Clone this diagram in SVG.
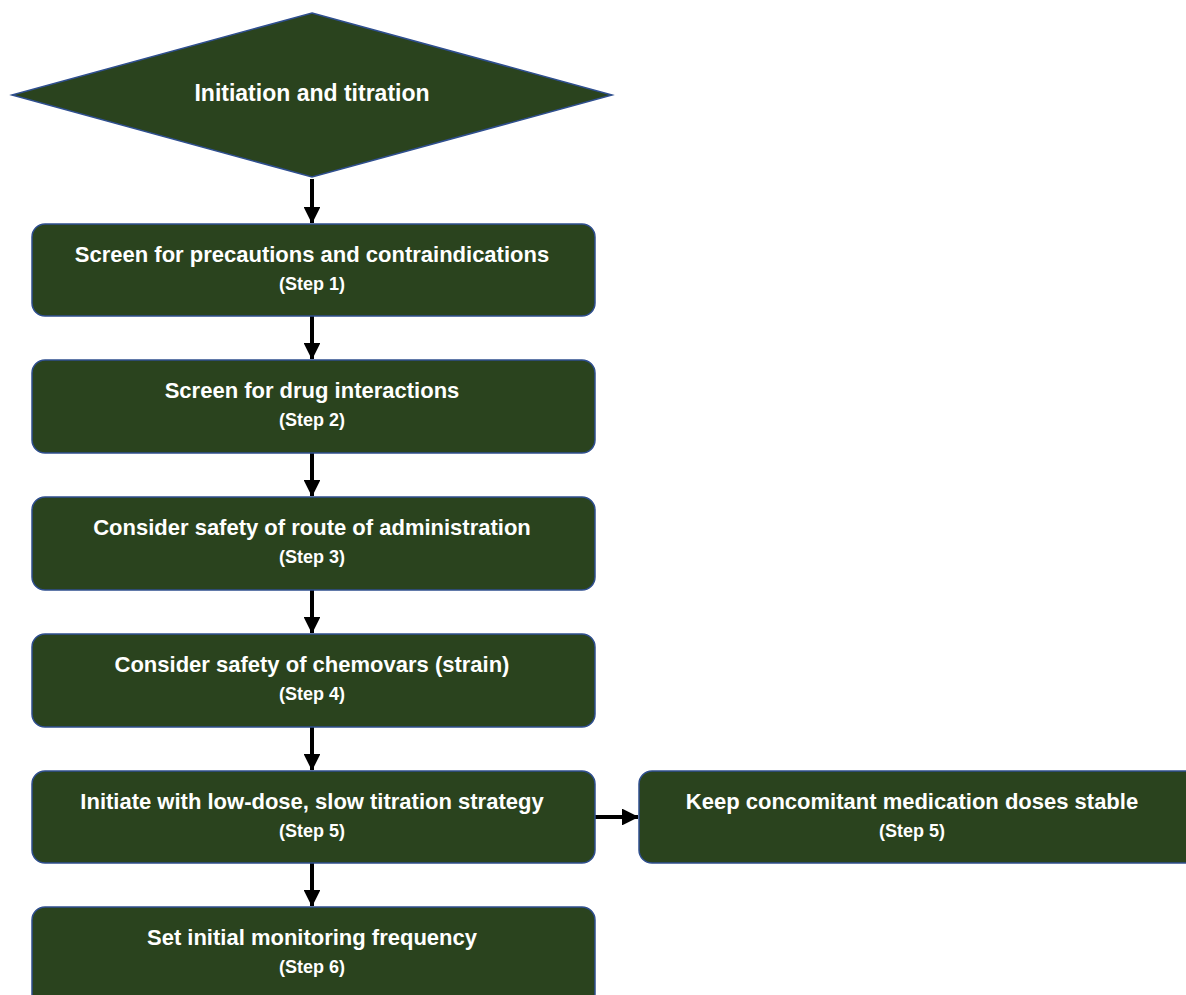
<svg xmlns="http://www.w3.org/2000/svg" width="1186" height="995" viewBox="0 0 1186 995">
<style>
.n{fill:#2a431e;stroke:#2f4f8f;stroke-width:1.5}
.t{font-family:"Liberation Sans",Arial,sans-serif;font-weight:bold;fill:#ffffff;text-anchor:middle;font-size:22px}
.d{font-size:23px}
.s{font-family:"Liberation Sans",Arial,sans-serif;font-weight:bold;fill:#ffffff;text-anchor:middle;font-size:18px}
.c{stroke:#000;stroke-width:4;fill:none;marker-end:url(#ah)}
</style>
<defs>
<marker id="ah" markerWidth="4.2" markerHeight="4.2" refX="4" refY="2.1" orient="auto" markerUnits="strokeWidth">
<path d="M0,0 L4.2,2.1 L0,4.2 Z" fill="#000"/>
</marker>
</defs>
<rect width="1186" height="995" fill="#fff"/>
<g id="connectors">
<line class="c" x1="312" y1="179" x2="312" y2="223"/>
<line class="c" x1="312" y1="316" x2="312" y2="359"/>
<line class="c" x1="312" y1="453" x2="312" y2="496"/>
<line class="c" x1="312" y1="590" x2="312" y2="633"/>
<line class="c" x1="312" y1="727" x2="312" y2="770"/>
<line class="c" x1="312" y1="863" x2="312" y2="906"/>
<line class="c" x1="595" y1="817" x2="638" y2="817"/>
</g>
<g id="start">
<polygon class="n" points="312,13 612,95 312,177 12,95"/>
<text class="t d" x="312" y="101">Initiation and titration</text>
</g>
<g id="step1">
<rect class="n" x="32" y="224" width="563" height="92" rx="13"/>
<text class="t" x="312" y="262">Screen for precautions and contraindications</text>
<text class="s" x="312" y="290">(Step 1)</text>
</g>
<g id="step2">
<rect class="n" x="32" y="360" width="563" height="93" rx="13"/>
<text class="t" x="312" y="398">Screen for drug interactions</text>
<text class="s" x="312" y="426">(Step 2)</text>
</g>
<g id="step3">
<rect class="n" x="32" y="497" width="563" height="93" rx="13"/>
<text class="t" x="312" y="535">Consider safety of route of administration</text>
<text class="s" x="312" y="563">(Step 3)</text>
</g>
<g id="step4">
<rect class="n" x="32" y="634" width="563" height="93" rx="13"/>
<text class="t" x="312" y="672">Consider safety of chemovars (strain)</text>
<text class="s" x="312" y="700">(Step 4)</text>
</g>
<g id="step5">
<rect class="n" x="32" y="771" width="563" height="92" rx="13"/>
<text class="t" x="312" y="809">Initiate with low-dose, slow titration strategy</text>
<text class="s" x="312" y="837">(Step 5)</text>
</g>
<g id="step5b">
<rect class="n" x="639" y="771" width="560" height="92" rx="13"/>
<text class="t" x="912" y="809">Keep concomitant medication doses stable</text>
<text class="s" x="912" y="837">(Step 5)</text>
</g>
<g id="step6">
<rect class="n" x="32" y="907" width="563" height="100" rx="13"/>
<text class="t" x="312" y="945">Set initial monitoring frequency</text>
<text class="s" x="312" y="973">(Step 6)</text>
</g>
</svg>
